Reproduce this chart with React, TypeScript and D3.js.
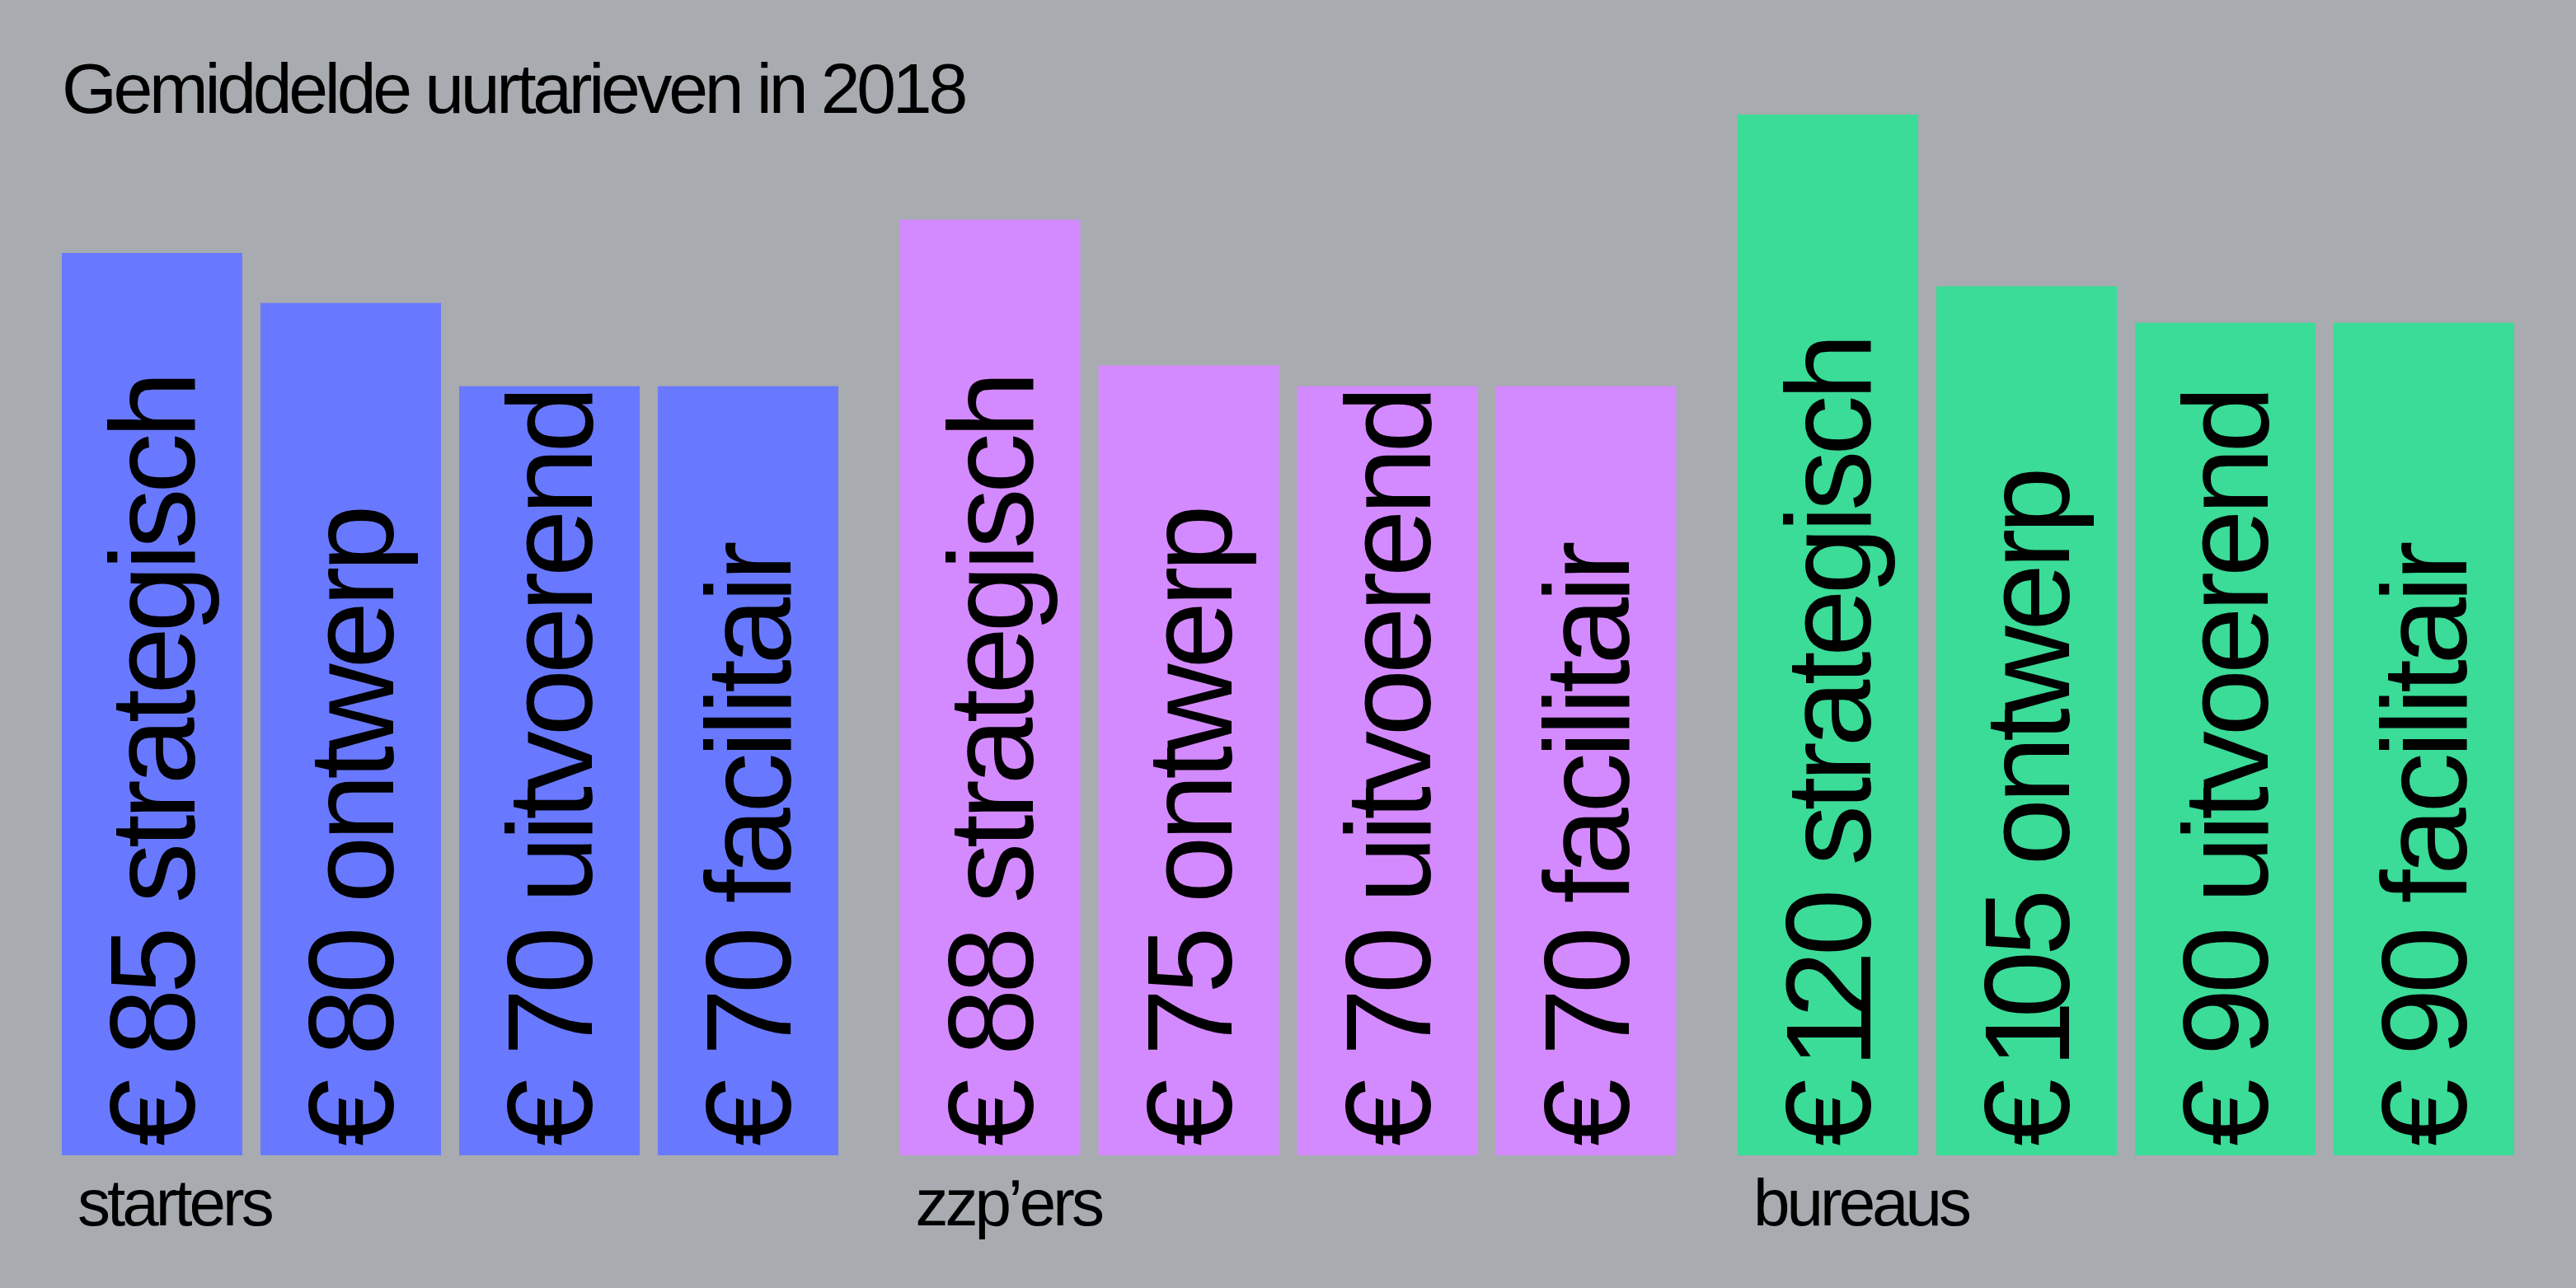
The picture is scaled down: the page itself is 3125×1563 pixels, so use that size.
import React, { useEffect } from "react";
import * as d3 from "d3";

const title = "Gemiddelde uurtarieven in 2018";
const groups = ["starters", "zzp’ers", "bureaus"];
const roles = ["strategisch", "ontwerp", "uitvoerend", "facilitair"];
const startersRates = [85, 80, 70, 70];
const zzpRates = [88, 75, 70, 70];
const bureausRates = [120, 105, 90, 90];
// relative bar length as drawn in the picture (tallest bar = 100)
const startersBarIndex = [86.7, 81.9, 73.9, 73.9];
const zzpBarIndex = [89.9, 75.9, 73.9, 73.9];
const bureausBarIndex = [100, 83.5, 80.0, 80.0];
const groupColors = ["#6979ff", "#d48aff", "#3bdb98"];

const W = 3125;
const H = 1563;
const FONT = "'Liberation Sans', Arial, Helvetica, sans-serif";

// proportional "1": tighten spacing around it (reference font has a narrow 1)
function labelSpans(text: string, fs: number) {
  const chars = Array.from(text);
  const out: React.ReactNode[] = [];
  let pendingDx = 0;
  chars.forEach((c, i) => {
    let dx = pendingDx;
    pendingDx = 0;
    if (c === "1") {
      dx += -0.1 * fs;
      pendingDx = -0.1 * fs;
    }
    out.push(
      <tspan key={i} dx={dx !== 0 ? dx : undefined}>
        {c}
      </tspan>
    );
  });
  return out;
}

export default function App() {
  useEffect(() => {
    document.body.style.margin = "0";
    document.body.style.background = "#a8abb0";
  }, []);

  const rates = [startersRates, zzpRates, bureausRates];
  const barIdx = [startersBarIndex, zzpBarIndex, bureausBarIndex];

  const xGroup = d3.scaleBand<string>().domain(groups).range([75, 3050]).paddingInner(0.0733).paddingOuter(0);
  const xRole = d3.scaleBand<string>().domain(roles).range([0, xGroup.bandwidth()]).paddingInner(0.0913).paddingOuter(0);
  const y = d3.scaleLinear().domain([0, 100]).range([1402, 139]);
  const color = d3.scaleOrdinal<string, string>().domain(groups).range(groupColors);

  const labelSize = 147;

  return (
    <svg width={W} height={H} viewBox={`0 0 ${W} ${H}`} style={{ display: "block", background: "#a8abb0" }}>
      <rect x={0} y={0} width={W} height={H} fill="#a8abb0" />
      <text x={75} y={137} fontFamily={FONT} fontSize={86} letterSpacing="-0.05em" fill="#000">
        {title}
      </text>
      {groups.map((g, gi) => {
        const gx = xGroup(g) as number;
        return (
          <g key={g} transform={`translate(${gx},0)`}>
            {roles.map((r, ri) => {
              const bx = xRole(r) as number;
              const bw = xRole.bandwidth();
              const top = y(barIdx[gi][ri]);
              const cx = bx + bw / 2;
              return (
                <g key={r}>
                  <rect x={bx} y={top} width={bw} height={y(0) - top} fill={color(g)} />
                  <text
                    transform={`translate(${cx + 0.352 * labelSize},${y(0) - 11}) rotate(-90)`}
                    fontFamily={FONT}
                    fontSize={labelSize}
                    letterSpacing="-0.044em"
                    fill="#000"
                  >
                    {labelSpans(`€ ${rates[gi][ri]} ${r}`, labelSize)}
                  </text>
                </g>
              );
            })}
            <text x={19} y={1487} fontFamily={FONT} fontSize={80} letterSpacing="-0.05em" fill="#000">
              {g}
            </text>
          </g>
        );
      })}
    </svg>
  );
}
